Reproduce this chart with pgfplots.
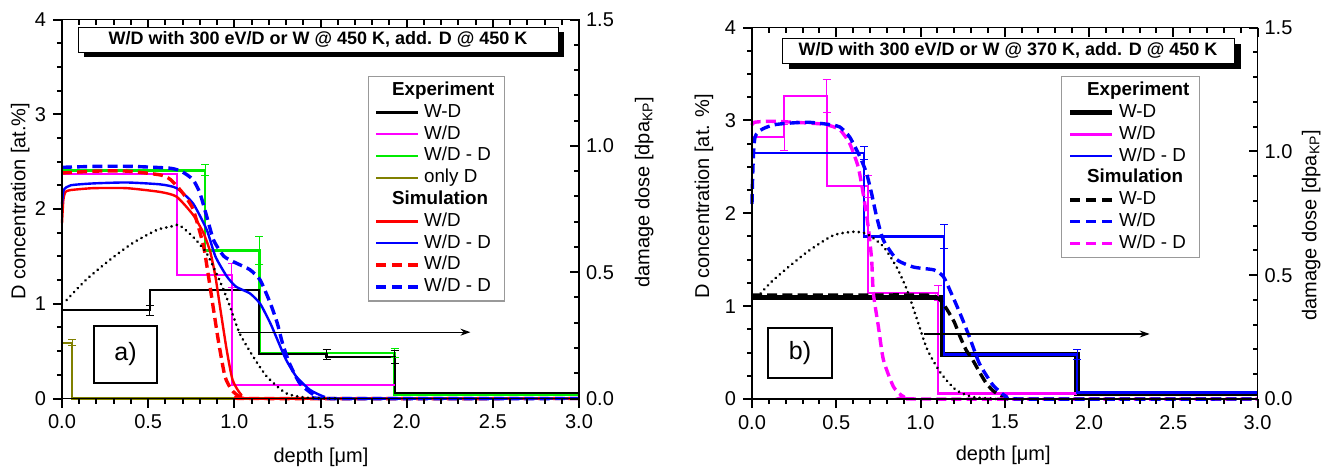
\documentclass[border=0pt]{standalone}
\usepackage{pgfplots}
\pgfplotsset{compat=1.18}
\usepackage{fontspec}
\setmainfont{Liberation Sans}
\usetikzlibrary{arrows.meta}

\definecolor{magD}{RGB}{255,0,255}
\definecolor{grnD}{RGB}{0,235,0}
\definecolor{oliveD}{RGB}{128,128,0}
\definecolor{redS}{RGB}{255,0,0}
\definecolor{bluS}{RGB}{0,0,255}

\newcommand\lblfont{\fontsize{10}{12}\selectfont}
\newcommand\legfont{\fontsize{9.4}{11}\selectfont}

% tick marks round an axis frame: #1,#2 = lower left corner, #3,#4 = width, height (pt)
\newcommand\frameticks[4]{%
  \pgfmathsetmacro\fxl{#1}\pgfmathsetmacro\fxr{#1+#3}%
  \pgfmathsetmacro\fyb{#2}\pgfmathsetmacro\fyt{#2+#4}%
  \foreach \i in {0,...,30}{%
    \pgfmathsetmacro\tkx{\fxl+#3*\i/30}%
    \pgfmathsetmacro\tkl{mod(\i,5)==0 ? 4.5 : 2.5}%
    \draw[line width=1pt, black] (\tkx pt,\fyb pt) -- ++(0,-\tkl pt);
    \draw[line width=1pt, black] (\tkx pt,\fyt pt) -- ++(0,-\tkl pt);
  }%
  \foreach \i in {0,...,16}{%
    \pgfmathsetmacro\tky{\fyb+#4*\i/16}%
    \pgfmathsetmacro\tkl{mod(\i,4)==0 ? 4.5 : 2.5}%
    \draw[line width=1pt, black] (\fxl pt,\tky pt) -- ++(-\tkl pt,0);
  }%
  \foreach \i in {0,...,15}{%
    \pgfmathsetmacro\tky{\fyb+#4*\i/15}%
    \pgfmathsetmacro\tkl{mod(\i,5)==0 ? 4.5 : 2.5}%
    \draw[line width=1pt, black] (\fxr pt,\tky pt) -- ++(-\tkl pt,0);
  }%
}

\pgfplotsset{
  common/.style={
    scale only axis, xmin=0, xmax=3, clip=false,
    axis line style={line width=0.8pt},
    tick style={black, line width=1pt},
    major tick length=4.5pt, minor tick length=2.5pt,
    tick label style={font=\lblfont},
    label style={font=\lblfont},
    /pgf/number format/assume math mode=true,
    xtick={0,0.5,...,3}, minor x tick num=4,
  },
  base/.style={common,
    xtick pos=left, ytick pos=left, tick align=outside,
    ymin=0, ymax=4, ytick={0,1,2,3,4}, minor y tick num=3,
    xticklabel style={/pgf/number format/.cd, fixed, fixed zerofill, precision=1},
  },
  over/.style={common,
    xtick pos=right, ytick pos=right, tick align=inside,
    xticklabel pos=right, yticklabel pos=right,
    ymin=0, ymax=1.5, ytick={0,0.5,1,1.5}, minor y tick num=4,
    xticklabels={},
    yticklabel style={/pgf/number format/.cd, fixed, fixed zerofill, precision=1},
    legend cell align=left,
    legend image code/.code={\draw[##1] (0pt,0pt) -- (21pt,0pt);},
  },
  leg/.style={legend style={at={(axis description cs:#1)}, anchor=north west,
    draw=gray!80, line width=0.6pt, fill=white, font=\legfont,
    inner xsep=3pt, inner ysep=2.5pt, row sep=1.8pt,
    nodes={inner xsep=2pt, inner ysep=0pt, text height=7pt, text depth=2.1pt}}},
  exp/.style={line width=1.1pt, const plot, forget plot},
  sim/.style={line width=1.2pt, forget plot, smooth, tension=0.35},
  simd/.style={line width=1.7pt, dash pattern=on 5pt off 2.6pt, forget plot, smooth, tension=0.35},
  dpa/.style={line width=1.5pt, dash pattern=on 0.01pt off 2.7pt, line cap=round, forget plot, smooth, tension=0.4},
  eb/.style={draw=none, forget plot,
    error bars/.cd, y dir=both, y explicit,
    error bar style={draw=#1, line width=0.5pt, solid},
    error mark=-,
    error mark options={draw=#1, mark size=2pt, line width=0.5pt, rotate=90}},
}

\begin{document}
\begin{tikzpicture}
\useasboundingbox (0,0) rectangle (668.5pt,234pt);

% ---------------- panel a) ----------------
\begin{axis}[base, at={(31pt,34.75pt)}, anchor=south west, width=258.5pt, height=189.5pt,
  xlabel={depth [μm]}, ylabel={D concentration [at.\%]},
  xlabel style={at={(axis description cs:0.501,-0.154)}, anchor=center},
  ylabel style={at={(axis description cs:-0.081,0.521)}, anchor=center}]
% experiment
\addplot[exp, grnD, line width=1.4pt] coordinates {(0,2.41) (0.83,1.56) (1.145,0.48) (1.93,0.04) (3,0.04)};
\addplot[exp, black] coordinates {(0,0.93) (0.51,1.145) (1.145,0.47) (1.535,0.435) (1.93,0.055) (3,0.055)};
\addplot[exp, magD] coordinates {(0,2.37) (0.665,1.30) (0.985,0.14) (1.93,0.14)};
\addplot[exp, oliveD] coordinates {(0,0.59) (0.06,0) (3,0)};
\addplot[eb=grnD] coordinates {(0.83,2.41) +- (0,0.06) (1.145,1.56) +- (0,0.15) (1.93,0.48) +- (0,0.05)};
\addplot[eb=black] coordinates {(0.51,0.93) +- (0,0.055) (1.535,0.465) +- (0,0.05) (1.93,0.435) +- (0,0.07)};
\addplot[eb=magD] coordinates {(0.985,1.30) +- (0,0.13)};
\addplot[eb=oliveD] coordinates {(0.06,0.59) +- (0,0.03)};
% simulation
\addplot[sim, redS] coordinates {(0,1.85) (0.008,2.1) (0.02,2.18) (0.05,2.2) (0.18,2.22) (0.375,2.22) (0.57,2.18) (0.665,2.13) (0.76,1.94) (0.82,1.75) (0.86,1.55) (0.89,1.29) (0.92,0.93) (0.956,0.51) (0.99,0.195) (1.04,0.04) (1.11,0) (3,0)};
\addplot[sim, bluS] coordinates {(0,2.05) (0.01,2.2) (0.05,2.25) (0.18,2.27) (0.375,2.28) (0.57,2.26) (0.665,2.22) (0.76,2.06) (0.84,1.78) (0.89,1.5) (0.956,1.29) (1.01,1.18) (1.09,1.11) (1.15,1.0) (1.21,0.79) (1.25,0.62) (1.30,0.41) (1.36,0.23) (1.44,0.09) (1.52,0.02) (1.6,0) (3,0)};
\addplot[simd, redS] coordinates {(0,2.38) (0.2,2.40) (0.375,2.40) (0.57,2.36) (0.63,2.31) (0.70,2.17) (0.76,2.0) (0.82,1.62) (0.85,1.29) (0.88,0.93) (0.91,0.58) (0.946,0.23) (0.985,0.09) (1.03,0.02) (1.1,0) (3,0)};
\addplot[simd, bluS] coordinates {(0,2.44) (0.2,2.45) (0.4,2.45) (0.63,2.43) (0.70,2.39) (0.76,2.31) (0.80,2.17) (0.84,1.92) (0.88,1.67) (0.94,1.5) (1.01,1.43) (1.09,1.36) (1.15,1.25) (1.21,1.0) (1.25,0.79) (1.28,0.58) (1.32,0.37) (1.38,0.16) (1.46,0.04) (1.53,0) (3,0)};
% the dotted damage profile belongs to the right-hand axis
\draw[-{Stealth[length=5pt,width=3.5pt]}, line width=0.6pt] (axis cs:1.02,0.70) -- (axis cs:2.37,0.70);
\end{axis}
\begin{axis}[over, at={(31pt,34.75pt)}, anchor=south west, width=258.5pt, height=189.5pt,
  ylabel={damage dose [dpa\textsubscript{KP}]},
  ylabel style={at={(axis description cs:1.126,0.545)}, anchor=center},
  leg={0.592,0.851}]
\addplot[dpa, black] coordinates {(0.027,0.39) (0.14,0.47) (0.28,0.55) (0.41,0.615) (0.55,0.667) (0.63,0.68) (0.68,0.686) (0.76,0.64) (0.84,0.574) (0.92,0.458) (0.975,0.364) (1.03,0.259) (1.11,0.165) (1.19,0.086) (1.30,0.021) (1.42,0.003) (1.6,0)};
\addlegendimage{empty legend}\addlegendentry{\hspace{-16pt}\textbf{Experiment}}
\addlegendimage{black, line width=1.1pt}\addlegendentry{W-D}
\addlegendimage{magD, line width=1.1pt}\addlegendentry{W/D}
\addlegendimage{grnD, line width=1.4pt}\addlegendentry{W/D - D}
\addlegendimage{oliveD, line width=1.1pt}\addlegendentry{only D}
\addlegendimage{empty legend}\addlegendentry{\hspace{-16pt}\textbf{Simulation}}
\addlegendimage{redS, line width=1.2pt}\addlegendentry{W/D}
\addlegendimage{bluS, line width=1.2pt}\addlegendentry{W/D - D}
\addlegendimage{redS, line width=1.7pt, dash pattern=on 5pt off 3pt}\addlegendentry{W/D}
\addlegendimage{bluS, line width=1.7pt, dash pattern=on 5pt off 3pt}\addlegendentry{W/D - D}
\end{axis}

% ---------------- panel b) ----------------
\begin{axis}[base, at={(376pt,34.5pt)}, anchor=south west, width=252.75pt, height=185.75pt,
  xlabel={depth [μm]}, ylabel={D concentration [at. \%]},
  xlabel style={at={(axis description cs:0.497,-0.151)}, anchor=center},
  ylabel style={at={(axis description cs:-0.095,0.546)}, anchor=center}]
% experiment
\addplot[exp, black, line width=2.8pt] coordinates {(0,1.095) (1.13,0.48) (1.93,0.06) (3,0.06)};
\addplot[exp, magD] coordinates {(0,2.82) (0.19,3.26) (0.443,2.29) (0.69,1.14) (1.105,0.06) (1.93,0.06)};
\addplot[exp, bluS] coordinates {(0,2.65) (0.665,1.75) (1.14,0.48) (1.93,0.07) (3,0.07)};
\addplot[eb=magD] coordinates {(0.19,2.82) +- (0,0.14) (0.443,3.26) +- (0,0.18) (0.69,2.29) +- (0,0.12) (1.105,1.14) +- (0,0.08)};
\addplot[eb=bluS] coordinates {(0.665,2.65) +- (0,0.07) (1.14,1.75) +- (0,0.13) (1.93,0.48) +- (0,0.05)};
% simulation
\addplot[simd, black] coordinates {(0,1.12) (0.5,1.12) (1.0,1.12) (1.08,1.11) (1.12,1.06) (1.155,0.97) (1.2,0.83) (1.235,0.67) (1.27,0.53) (1.31,0.42) (1.35,0.29) (1.39,0.17) (1.43,0.09) (1.47,0.04) (1.51,0.01) (1.6,0) (3,0)};
\addplot[simd, magD] coordinates {(0,2.95) (0.015,2.98) (0.126,2.99) (0.42,2.96) (0.52,2.9) (0.58,2.75) (0.63,2.5) (0.66,2.21) (0.69,1.85) (0.71,1.5) (0.72,1.14) (0.75,0.78) (0.78,0.42) (0.84,0.13) (0.9,0.025) (1.0,0) (3,0)};
\addplot[simd, bluS] coordinates {(0,2.1) (0.018,2.82) (0.126,2.95) (0.32,2.98) (0.44,2.96) (0.52,2.93) (0.58,2.82) (0.64,2.61) (0.68,2.43) (0.71,2.21) (0.74,1.96) (0.78,1.71) (0.86,1.5) (0.96,1.42) (1.08,1.39) (1.135,1.32) (1.175,1.17) (1.235,0.92) (1.29,0.67) (1.35,0.38) (1.43,0.15) (1.51,0.025) (1.6,0) (3,0)};
\draw[-{Stealth[length=5pt,width=3.5pt]}, line width=0.6pt] (axis cs:1.02,0.70) -- (axis cs:2.36,0.70);
\end{axis}
\begin{axis}[over, at={(376pt,34.5pt)}, anchor=south west, width=252.75pt, height=185.75pt,
  ylabel={damage dose [dpa\textsubscript{KP}]},
  ylabel style={at={(axis description cs:1.106,0.468)}, anchor=center},
  leg={0.611,0.869}]
\addplot[dpa, black] coordinates {(0.03,0.41) (0.126,0.48) (0.32,0.59) (0.48,0.66) (0.60,0.675) (0.68,0.667) (0.78,0.615) (0.86,0.53) (0.92,0.44) (0.98,0.32) (1.04,0.2) (1.12,0.105) (1.21,0.037) (1.31,0.008) (1.45,0)};
\addlegendimage{empty legend}\addlegendentry{\hspace{-16pt}\textbf{Experiment}}
\addlegendimage{black, line width=2.8pt}\addlegendentry{W-D}
\addlegendimage{magD, line width=1.1pt}\addlegendentry{W/D}
\addlegendimage{bluS, line width=1.1pt}\addlegendentry{W/D - D}
\addlegendimage{empty legend}\addlegendentry{\hspace{-16pt}\textbf{Simulation}}
\addlegendimage{black, line width=1.7pt, dash pattern=on 5pt off 3pt}\addlegendentry{W-D}
\addlegendimage{bluS, line width=1.7pt, dash pattern=on 5pt off 3pt}\addlegendentry{W/D}
\addlegendimage{magD, line width=1.7pt, dash pattern=on 5pt off 3pt}\addlegendentry{W/D - D}
\end{axis}

% ---------------- frame ticks ----------------
\frameticks{31}{34.75}{258.5}{189.5}
\frameticks{376}{34.5}{252.75}{185.75}

% ---------------- headings and panel tags ----------------
\fill[black] (42pt,205.5pt) rectangle (282pt,218pt);
\draw[fill=white, line width=0.5pt] (39pt,208pt) rectangle (279pt,220.5pt);
\node[font=\bfseries\fontsize{9}{10}\selectfont] at (159pt,214.25pt) {W/D with 300 eV/D or W @ 450 K, add. D @ 450 K};
\fill[black] (394.5pt,199.5pt) rectangle (620.5pt,212pt);
\draw[fill=white, line width=0.5pt] (391pt,202.5pt) rectangle (617pt,215pt);
\node[font=\bfseries\fontsize{9}{10}\selectfont] at (504pt,208.75pt) {W/D with 300 eV/D or W @ 370 K, add. D @ 450 K};

\draw[fill=white, line width=0.6pt] (47pt,42.5pt) rectangle (78.5pt,71pt);
\node[font=\fontsize{12.5}{14}\selectfont] at (62.75pt,56.75pt) {a)};
\draw[fill=white, line width=0.6pt] (384pt,45pt) rectangle (416pt,70pt);
\node[font=\fontsize{12.5}{14}\selectfont] at (400pt,57.5pt) {b)};
\end{tikzpicture}
\end{document}
